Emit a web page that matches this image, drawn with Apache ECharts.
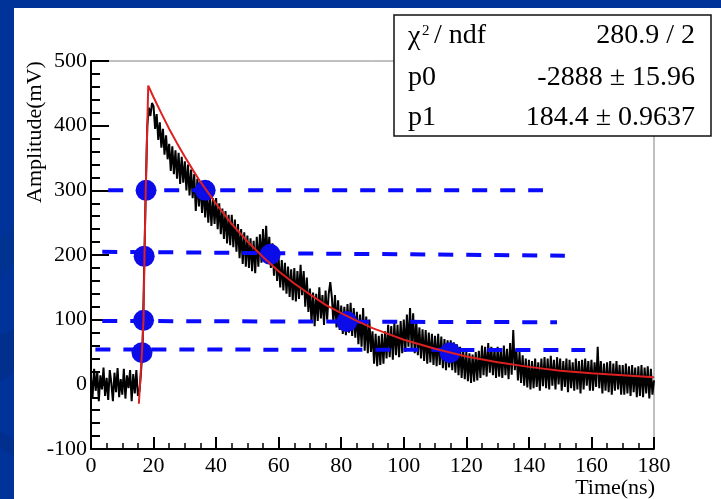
<!DOCTYPE html>
<html>
<head>
<meta charset="utf-8">
<script src="https://cdn.jsdelivr.net/npm/echarts@6/dist/echarts.min.js"></script>
<style>
  html, body { margin: 0; padding: 0; background: #fff; }
  #main { width: 721px; height: 499px; }
</style>
</head>
<body>
<div id="main"></div>
<script>
// 波形数据 (mV), 从 0 ns 开始, 每 0.5 ns 一个点
var traceStartNs = 0;
var traceStepNs = 0.5;
var traceMv = [
    12, -20, 24, -10, 20, -26, 14, -8, 26, -18,
    10, -24, 22, 2, -26, 18, -12, 25, -20, 8,
    -16, 24, -22, 14, -6, 22, -26, 16, -14, 22,
    -18, -10, 20, 60, 180, 300, 400, 428, 415, 435,
    430, 395, 418, 378, 405, 366, 395, 355, 385, 348,
    372, 330, 368, 325, 362, 318, 358, 310, 352, 312,
    345, 300, 340, 292, 332, 288, 325, 268, 318, 275,
    312, 265, 305, 258, 298, 250, 292, 245, 288, 248,
    288, 240, 280, 232, 272, 225, 268, 218, 262, 215,
    262, 212, 255, 205, 248, 195, 240, 186, 235, 182,
    230, 180, 226, 175, 222, 172, 228, 182, 232, 188,
    240, 190, 245, 195, 228, 180, 218, 168, 210, 160,
    195, 150, 192, 145, 188, 140, 182, 135, 178, 130,
    180, 128, 175, 132, 185, 138, 175, 120, 165, 112,
    148, 95, 142, 90, 140, 98, 150, 102, 138, 92,
    145, 100, 140, 158, 135, 95, 138, 88, 130, 84,
    122, 78, 120, 76, 124, 80, 126, 75, 118, 72,
    112, 62, 108, 58, 118, 52, 105, 48, 100, 50,
    82, 32, 78, 28, 75, 30, 78, 32, 82, 40,
    92, 42, 90, 38, 96, 45, 92, 42, 98, 48,
    100, 50, 108, 58, 118, 55, 110, 48, 98, 45,
    88, 40, 85, 36, 84, 32, 80, 34, 78, 30,
    75, 28, 78, 30, 74, 25, 70, 22, 68, 26,
    68, 22, 65, 18, 62, 14, 58, 10, 55, 8,
    50, 5, 48, 2, 46, 4, 50, 6, 52, 10,
    60, 14, 58, 12, 64, 18, 58, 14, 56, 10,
    58, 12, 56, 10, 60, 14, 55, 8, 64, 15,
    84, 22, 55, 6, 50, 2, 45, -2, 40, -5,
    38, -8, 36, -6, 40, -4, 34, -10, 40, -3,
    42, -6, 40, -8, 44, -2, 38, -8, 42, 0,
    40, -10, 36, -4, 40, -12, 38, -6, 34, -10,
    40, -8, 36, -14, 38, -8, 40, -2, 36, -10,
    38, -10, 34, -4, 58, -6, 36, -14, 32, -10,
    34, -12, 36, -16, 32, -10, 36, -8, 30, -16,
    30, -16, 32, -14, 28, -18, 30, -12, 26, -20,
    28, -18, 30, -20, 26, -14, 28, -22, 24, -16,
    6
];

// 拟合曲线 (红线)
var fitTimeNs = [15.3, 16.3, 16.8, 17.1, 17.5, 18.3, 20, 22.5, 25, 27.5, 30, 32.5, 35, 37.5, 40, 45, 50, 55, 60, 65, 70, 75, 80, 85, 90, 95, 100, 110, 120, 130, 140, 150, 160, 170, 180];
var fitMv = [-30, 50, 100, 200, 300, 462, 444, 419, 395, 373, 352, 332, 313, 296, 279, 248, 221, 197, 175, 156, 139, 123, 110, 98, 87, 78, 69, 55, 43, 34, 27, 21, 17, 14, 11];

// 阈值虚线
var dashStartNs = [5.5, 3.6, 3.6, 1.4];
var dashEndNs = [144.5, 151.5, 149, 158];
var dashStartMv = [300, 205, 98, 54];
var dashEndMv = [300, 199, 96, 53];

// 过阈点
var dotTimeNs = [17.6, 36.5, 17.0, 57.3, 16.8, 81.8, 16.3, 114.8];
var dotMv = [300, 300, 198, 201, 99, 97, 49, 49];

// 统计框
var statNames = ['p0', 'p1'];
var statValues = ['280.9 / 2', '-2888 \u00b1 15.96', '184.4 \u00b1 0.9637'];

var serif = '"Liberation Serif", "DejaVu Serif", serif';

var traceData = traceMv.map(function (v, i) {
    return [traceStartNs + i * traceStepNs, v];
});
var fitData = fitTimeNs.map(function (t, i) {
    return [t, fitMv[i]];
});
var dotData = dotTimeNs.map(function (t, i) {
    return [t, dotMv[i]];
});

var series = [{
    type: 'line',
    data: traceData,
    symbol: 'none',
    lineStyle: {color: '#000', width: 2},
    z: 2
}];
for (var k = 0; k < dashStartNs.length; k++) {
    series.push({
        type: 'line',
        data: [[dashStartNs[k], dashStartMv[k]], [dashEndNs[k], dashEndMv[k]]],
        symbol: 'none',
        lineStyle: {color: '#0a0aff', width: 4, type: [15, 13]},
        z: 3
    });
}
series.push({
    type: 'scatter',
    data: dotData,
    symbolSize: 21,
    itemStyle: {color: '#0c0ce8', opacity: 1},
    z: 4
});
series.push({
    type: 'line',
    data: fitData,
    symbol: 'none',
    lineStyle: {color: '#dd2020', width: 2},
    z: 5
});

var graphics = [
    {type: 'rect', shape: {x: 0, y: 0, width: 14, height: 499}, style: {fill: '#003399'}, silent: true},
    {type: 'rect', shape: {x: 0, y: 0, width: 721, height: 8}, style: {fill: '#003399'}, silent: true},
    {type: 'polygon', shape: {points: [[0, 335], [14, 330], [14, 372], [0, 382]]}, style: {fill: '#002f8e'}, silent: true},
    {type: 'polygon', shape: {points: [[0, 430], [14, 440], [14, 457], [0, 448]]}, style: {fill: '#002f8e'}, silent: true},
    {type: 'polygon', shape: {points: [[0, 240], [14, 225], [14, 262], [0, 280]]}, style: {fill: '#003292'}, silent: true},
    {
        type: 'text', x: 35, y: 132, rotation: Math.PI / 2,
        style: {text: 'Amplitude(mV)', font: '22px ' + serif, fill: '#000', align: 'center', verticalAlign: 'middle'}
    },
    {
        type: 'text', x: 655, y: 488,
        style: {text: 'Time(ns)', font: '22px ' + serif, fill: '#000', align: 'right', verticalAlign: 'middle'}
    },
    {
        type: 'rect', shape: {x: 394, y: 15, width: 317, height: 121}, z: 10,
        style: {fill: '#fff', stroke: '#111', lineWidth: 1.5}
    },
    {type: 'text', x: 408, y: 37, z: 11, style: {text: '\u03c7', font: '28px ' + serif, fill: '#000', verticalAlign: 'middle'}},
    {type: 'text', x: 422, y: 31, z: 11, style: {text: '2', font: '15px ' + serif, fill: '#000', verticalAlign: 'middle'}},
    {type: 'text', x: 434, y: 36, z: 11, style: {text: '/ ndf', font: '28px ' + serif, fill: '#000', verticalAlign: 'middle'}}
];
for (var r = 0; r < statValues.length; r++) {
    var cy = [36, 78, 118][r];
    if (r > 0) {
        graphics.push({type: 'text', x: 408, y: cy, z: 11,
            style: {text: statNames[r - 1], font: '28px ' + serif, fill: '#000', verticalAlign: 'middle'}});
    }
    graphics.push({type: 'text', x: 695, y: cy, z: 11,
        style: {text: statValues[r], font: '28px ' + serif, fill: '#000', align: 'right', verticalAlign: 'middle'}});
}

var chart = echarts.init(document.getElementById('main'), null, {renderer: 'canvas'});
chart.setOption({
    animation: false,
    backgroundColor: '#fff',
    grid: {left: 91, right: 67, top: 61, bottom: 50, show: true, borderColor: '#808080', borderWidth: 1},
    xAxis: {
        type: 'value', min: 0, max: 180, interval: 20,
        axisLine: {onZero: false, lineStyle: {color: '#000', width: 2}},
        axisTick: {inside: true, length: 12, lineStyle: {color: '#000', width: 2}},
        minorTick: {show: true, splitNumber: 4, length: 6, lineStyle: {color: '#000', width: 1.5}},
        axisLabel: {color: '#000', fontFamily: serif, fontSize: 22, margin: 6},
        splitLine: {show: false}
    },
    yAxis: {
        type: 'value', min: -100, max: 500, interval: 100,
        axisLine: {onZero: false, lineStyle: {color: '#000', width: 2}},
        axisTick: {inside: true, length: 18, lineStyle: {color: '#000', width: 2}},
        minorTick: {show: true, splitNumber: 5, length: 9, lineStyle: {color: '#000', width: 2}},
        axisLabel: {color: '#000', fontFamily: serif, fontSize: 22, margin: 4},
        splitLine: {show: false}
    },
    series: series,
    graphic: graphics
});
</script>
</body>
</html>
